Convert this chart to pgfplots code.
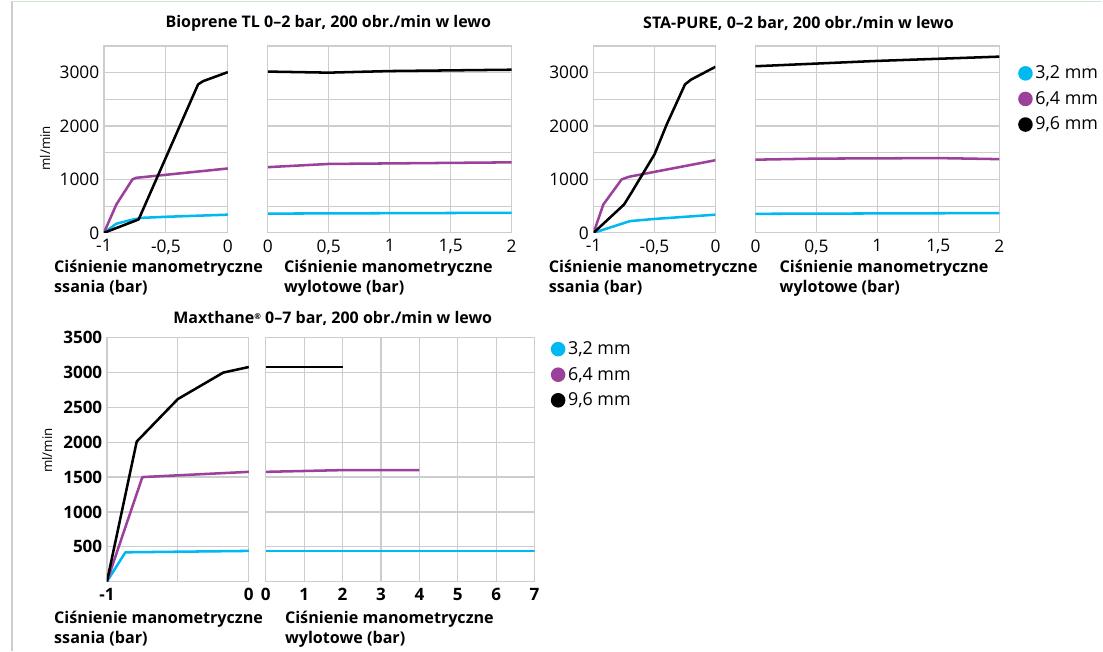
\documentclass[border=0pt]{standalone}
\usepackage{fontspec}
\setmainfont{Open Sans}
\usepackage{pgfplots}
\pgfplotsset{compat=1.18}

\definecolor{c32}{RGB}{0,185,240}
\definecolor{c64}{RGB}{155,65,155}
\definecolor{gridc}{RGB}{205,205,205}

\pgfplotsset{
  base/.style={
    scale only axis,
    anchor=south west,
    axis line style={gridc, line width=0.9pt},
    grid=both,
    major grid style={gridc, line width=0.9pt},
    minor grid style={gridc, line width=0.9pt},
    tick style={draw=none},
    ymin=0, ymax=3500,
    tick label style={font=\fontsize{13}{15}\selectfont},
    x tick label style={yshift=-1.5pt},
    /pgf/number format/assume math mode=true,
    /pgf/number format/use comma,
    /pgf/number format/1000 sep={},
    every axis plot/.append style={line width=1.9pt, line join=round},
    xlabel style={at={(rel axis cs:0,0)}, anchor=north west, align=left,
      inner sep=0pt, font=\bfseries\fontsize{12.1}{15}\selectfont},
  },
  toprow/.style={base, height=140.25pt,
    ytick={0,1000,2000,3000}, minor ytick={500,1500,2500}},
  botrow/.style={base, height=183pt, ytick={500,1000,...,3500},
    tick label style={font=\bfseries\fontsize{12.8}{14}\selectfont}},
  dotlegend/.style={legend image code/.code={\fill (0pt,0pt) circle (4.5pt);},
    legend style={draw=none, fill=none, inner sep=0pt, row sep=4pt,
      font=\fontsize{13.4}{16}\selectfont, cells={anchor=west}}},
}

\begin{document}
\begin{tikzpicture}
\path (0,0) rectangle (827.25pt,487.5pt);
\draw[gridc, line width=1.5pt] (9pt,0) -- (9pt,487.5pt);
\draw[green!15!gridc!60, line width=1.2pt] (9pt,487pt) -- (827.25pt,487pt);

% ---------- Bioprene ----------
\node[font=\bfseries\fontsize{12}{14}\selectfont] at (246.4pt,471pt) {Bioprene TL 0–2 bar, 200 obr./min w lewo};
\node[rotate=90, font=\fontsize{10}{12}\selectfont] at (33.75pt,377pt) {ml/min};

\begin{axis}[toprow, at={(78pt,313.5pt)}, width=93pt,
  xmin=-1, xmax=0, xtick={-1,-0.5,0},
  xlabel={Ciśnienie manometryczne\\ssania (bar)},
  xlabel style={xshift=-37.5pt, yshift=-20pt}]
\addplot[c32] coordinates {(-1,0) (-0.9,170) (-0.8,230) (-0.7,280) (-0.5,300) (0,340)};
\addplot[c64] coordinates {(-1,0) (-0.9,530) (-0.77,1000) (-0.74,1030) (0,1205)};
\addplot[black] coordinates {(-1,0) (-0.72,250) (-0.24,2780) (-0.2,2840) (0,3010)};
\end{axis}

\begin{axis}[toprow, at={(201pt,313.5pt)}, width=183pt,
  xmin=0, xmax=2, xtick={0,0.5,...,2}, yticklabels={},
  xlabel={Ciśnienie manometryczne\\wylotowe (bar)},
  xlabel style={xshift=12pt, yshift=-20pt}]
\addplot[c32] coordinates {(0,360) (2,375)};
\addplot[c64] coordinates {(0,1230) (0.5,1290) (2,1320)};
\addplot[black] coordinates {(0,3020) (0.5,3000) (1,3030) (2,3055)};
\end{axis}

% ---------- STA-PURE ----------
\node[font=\bfseries\fontsize{12}{14}\selectfont] at (599.25pt,471pt) {STA-PURE, 0–2 bar, 200 obr./min w lewo};

\begin{axis}[toprow, at={(445.5pt,313.5pt)}, width=91.5pt,
  xmin=-1, xmax=0, xtick={-1,-0.5,0},
  xlabel={Ciśnienie manometryczne\\ssania (bar)},
  xlabel style={xshift=-33.75pt, yshift=-20pt}]
\addplot[c32] coordinates {(-1,0) (-0.7,220) (-0.5,260) (0,340)};
\addplot[c64] coordinates {(-1,0) (-0.92,530) (-0.77,1000) (-0.71,1050) (0,1360)};
\addplot[black] coordinates {(-1,0) (-0.75,530) (-0.69,750) (-0.5,1470) (-0.4,2030) (-0.25,2780) (-0.2,2870) (0,3110)};
\end{axis}

\begin{axis}[toprow, dotlegend, at={(567pt,313.5pt)}, width=183pt,
  xmin=0, xmax=2, xtick={0,0.5,...,2}, yticklabels={},
  xlabel={Ciśnienie manometryczne\\wylotowe (bar)},
  xlabel style={xshift=18pt, yshift=-20pt},
  legend style={at={(1,0.909)}, anchor=north west, xshift=14pt}]
\addplot[c32, forget plot] coordinates {(0,356) (2,370)};
\addplot[c64, forget plot] coordinates {(0,1370) (0.5,1390) (1.5,1400) (2,1380)};
\addplot[black, forget plot] coordinates {(0,3120) (0.5,3170) (1,3220) (2,3300)};
\addlegendimage{c32}\addlegendentry{3,2 mm}
\addlegendimage{c64}\addlegendentry{6,4 mm}
\addlegendimage{black}\addlegendentry{9,6 mm}
\end{axis}

% ---------- Maxthane ----------
\node[font=\bfseries\fontsize{12}{14}\selectfont] at (249.75pt,249pt) {Maxthane\raisebox{0.55ex}{\fontsize{6}{7}\selectfont ®} 0–7 bar, 200 obr./min w lewo};
\node[rotate=90, font=\fontsize{10}{12}\selectfont] at (35.25pt,150pt) {ml/min};

\begin{axis}[botrow, at={(80.25pt,51.75pt)}, width=106.5pt,
  xmin=-1, xmax=0, xtick={-1,0}, minor xtick={-0.5},
  xlabel={Ciśnienie manometryczne\\ssania (bar)},
  xlabel style={xshift=-39.75pt, yshift=-22pt}]
\addplot[c32] coordinates {(-1,0) (-0.87,420) (0,440)};
\addplot[c64] coordinates {(-1,0) (-0.75,1500) (-0.5,1525) (0,1575)};
\addplot[black] coordinates {(-1,0) (-0.79,2010) (-0.5,2620) (-0.18,3000) (0,3080)};
\end{axis}

\begin{axis}[botrow, dotlegend, at={(199.5pt,51.75pt)}, width=201.75pt,
  xmin=0, xmax=7, xtick={0,1,...,7}, yticklabels={},
  xlabel={Ciśnienie manometryczne\\wylotowe (bar)},
  xlabel style={xshift=14.25pt, yshift=-22pt},
  legend style={at={(1,0.996)}, anchor=north west, xshift=12pt}]
\addplot[c32, forget plot] coordinates {(0,440) (7,440)};
\addplot[c64, forget plot] coordinates {(0,1575) (2,1600) (4,1600)};
\addplot[black, forget plot] coordinates {(0,3080) (2,3080)};
\addlegendimage{c32}\addlegendentry{3,2 mm}
\addlegendimage{c64}\addlegendentry{6,4 mm}
\addlegendimage{black}\addlegendentry{9,6 mm}
\end{axis}
\end{tikzpicture}
\end{document}
